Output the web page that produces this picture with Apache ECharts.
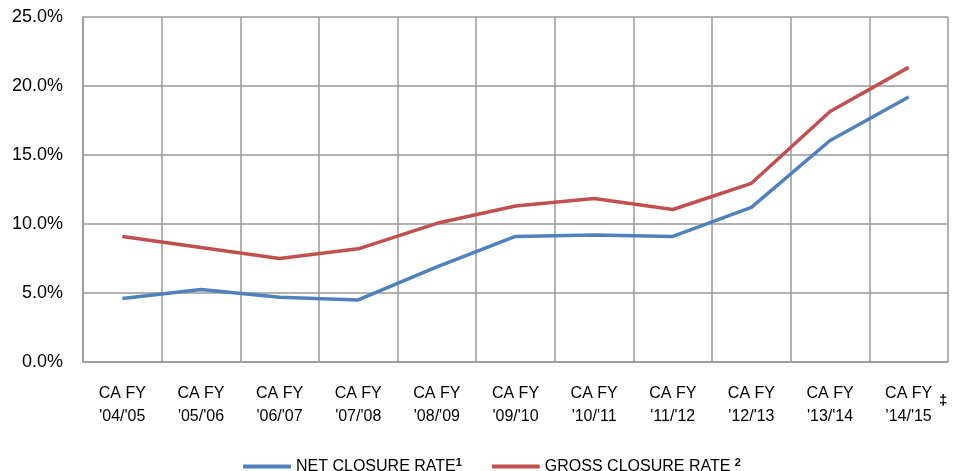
<!DOCTYPE html>
<html>
<head>
<meta charset="utf-8">
<script src="https://cdn.jsdelivr.net/npm/echarts@6/dist/echarts.min.js"></script>
<style>
  html, body { margin: 0; padding: 0; background: #fff; }
  #chart { width: 953px; height: 471px; }
</style>
</head>
<body>
<div id="chart"></div>
<script>
const categories = [
  "CA FY\n'04/'05", "CA FY\n'05/'06", "CA FY\n'06/'07", "CA FY\n'07/'08",
  "CA FY\n'08/'09", "CA FY\n'09/'10", "CA FY\n'10/'11", "CA FY\n'11/'12",
  "CA FY\n'12/'13", "CA FY\n'13/'14", "CA FY\n'14/'15"
];
// 净关闭率 / 总关闭率 (%)
const netRate = [4.6, 5.25, 4.7, 4.5, 6.9, 9.1, 9.2, 9.1, 11.2, 16.05, 19.2];
const grossRate = [9.1, 8.3, 7.5, 8.2, 10.05, 11.3, 11.85, 11.05, 12.95, 18.15, 21.35];
const yTicks = { min: 0, max: 25, interval: 5 };

const chart = echarts.init(document.getElementById("chart"));
const font = "Liberation Sans";

chart.setOption({
  animation: false,
  grid: { left: 83, right: 5, top: 17, bottom: 109 },
  legend: {
    top: 452,
    left: 238,
    itemWidth: 48,
    itemHeight: 4,
    itemGap: 30,
    icon: "roundRect",
    textStyle: {
      fontFamily: font,
      fontSize: 16,
      color: "#000",
      rich: {
        sup: { fontSize: 11, fontWeight: "bold", verticalAlign: "top", padding: [0, 0, 8, 0] }
      }
    },
    formatter: function (name) {
      if (name === "NET CLOSURE RATE") return name + "{sup|1}";
      return name + " {sup|2}";
    },
    data: ["NET CLOSURE RATE", "GROSS CLOSURE RATE"]
  },
  xAxis: {
    type: "category",
    data: categories,
    boundaryGap: true,
    axisTick: { show: false },
    axisLine: { lineStyle: { color: "#999", width: 1.5 } },
    splitLine: { show: true, interval: 0, lineStyle: { color: "#999", width: 1.5 } },
    axisLabel: {
      interval: 0,
      margin: 20,
      fontFamily: font,
      fontSize: 16,
      lineHeight: 23,
      color: "#000"
    }
  },
  yAxis: {
    type: "value",
    min: yTicks.min,
    max: yTicks.max,
    interval: yTicks.interval,
    axisLine: { show: true, lineStyle: { color: "#999", width: 1.5 } },
    axisTick: { show: false },
    splitLine: { lineStyle: { color: "#999", width: 1.5 } },
    axisLabel: {
      margin: 20,
      fontFamily: font,
      fontSize: 18,
      color: "#000",
      formatter: function (v) { return v.toFixed(1) + "%"; }
    }
  },
  graphic: [{
    type: "text",
    left: 939,
    top: 393,
    style: { text: "‡", fontFamily: font, fontSize: 15, fontWeight: "bold", fill: "#000" }
  }],
  series: [
    {
      name: "NET CLOSURE RATE",
      type: "line",
      data: netRate,
      showSymbol: false,
      lineStyle: { color: "#4F81BD", width: 3.5 },
      itemStyle: { color: "#4F81BD" }
    },
    {
      name: "GROSS CLOSURE RATE",
      type: "line",
      data: grossRate,
      showSymbol: false,
      lineStyle: { color: "#C0504D", width: 3.5 },
      itemStyle: { color: "#C0504D" }
    }
  ]
});
</script>
</body>
</html>
